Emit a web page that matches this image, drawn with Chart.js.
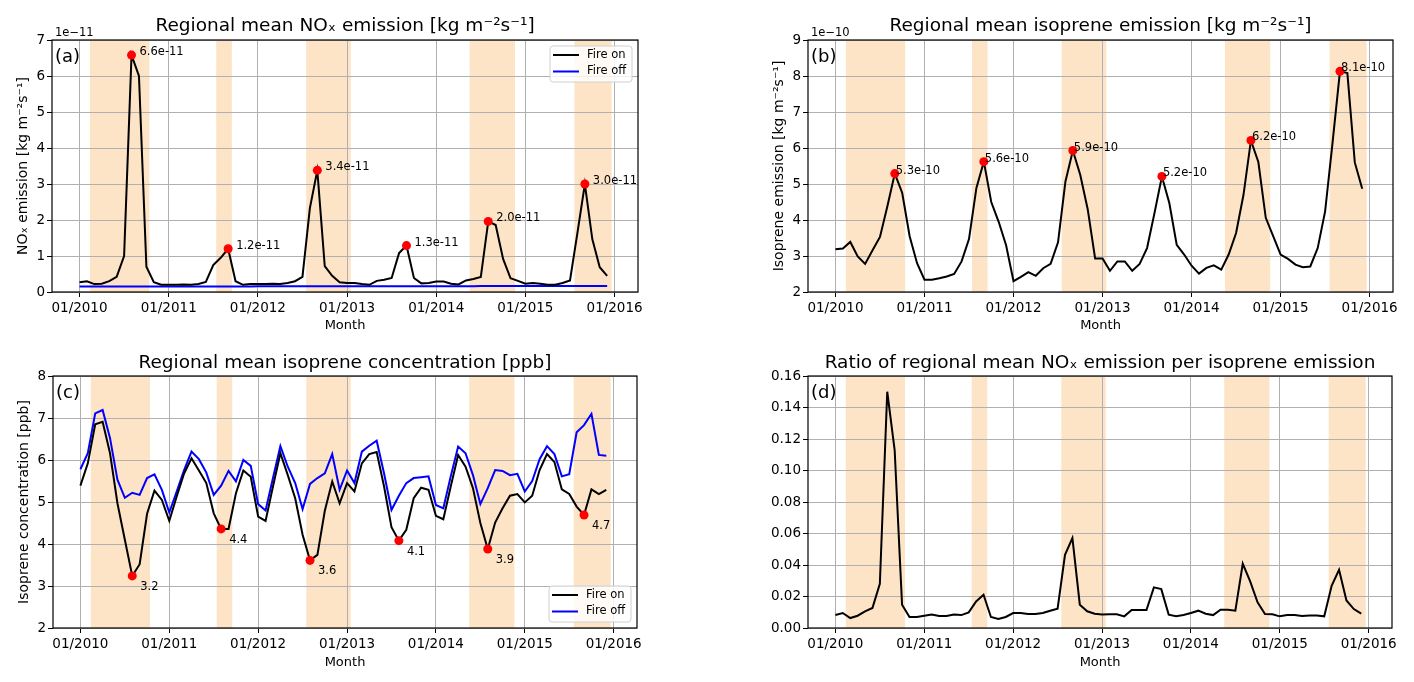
<!DOCTYPE html>
<html lang="en">
<head>
    <meta charset="UTF-8">
    <script src="https://cdn.jsdelivr.net/npm/chart.js"></script>
    <title>Fire on / Fire off</title>
    <style>
        body { margin: 0; background: #fff; }
        .painel { position: absolute; }
    </style>
</head>
<body>

<div class="painel" style="left:0;top:0"><canvas id="grafico_a" width="707" height="341"></canvas></div>
<div class="painel" style="left:707px;top:0"><canvas id="grafico_b" width="707" height="341"></canvas></div>
<div class="painel" style="left:0;top:341px"><canvas id="grafico_c" width="707" height="341"></canvas></div>
<div class="painel" style="left:707px;top:341px"><canvas id="grafico_d" width="707" height="341"></canvas></div>

<script>

    // x axis = month index, 0 = 01/2010
    const tickMonths = [0, 12, 24, 36, 48, 60, 72];
    const tickLabels = ['01/2010', '01/2011', '01/2012', '01/2013', '01/2014', '01/2015', '01/2016'];

    // fire seasons (shaded), in month index
    const seasonStart = [1.4, 18.4, 30.5, 52.5, 66.6];
    const seasonEnd = [9.4, 20.5, 36.5, 58.6, 71.6];

    // (a) NOx emission, x 1e-11 kg m-2 s-1
    const noxFireOn = [0.27, 0.30, 0.22, 0.23, 0.30, 0.42, 1.00, 6.58, 6.00, 0.70, 0.27, 0.20,
                       0.20, 0.20, 0.21, 0.20, 0.22, 0.28, 0.75, 0.95, 1.20, 0.30, 0.20, 0.22,
                       0.22, 0.22, 0.23, 0.22, 0.25, 0.30, 0.42, 2.33, 3.38, 0.72, 0.45, 0.27,
                       0.25, 0.25, 0.22, 0.20, 0.31, 0.34, 0.39, 1.08, 1.29, 0.39, 0.24, 0.25,
                       0.29, 0.29, 0.23, 0.21, 0.32, 0.36, 0.42, 1.96, 1.86, 0.92, 0.38, 0.31,
                       0.23, 0.25, 0.23, 0.20, 0.20, 0.25, 0.32, 1.64, 3.00, 1.47, 0.69, 0.45];
    const noxFireOff = [0.15, 0.15, 0.15, 0.15, 0.15, 0.15, 0.15, 0.15, 0.15, 0.15, 0.15, 0.15,
                        0.15, 0.15, 0.15, 0.15, 0.15, 0.15, 0.15, 0.15, 0.15, 0.15, 0.15, 0.15,
                        0.16, 0.16, 0.16, 0.16, 0.16, 0.16, 0.16, 0.16, 0.16, 0.16, 0.16, 0.16,
                        0.16, 0.16, 0.16, 0.16, 0.16, 0.16, 0.16, 0.16, 0.16, 0.16, 0.16, 0.16,
                        0.16, 0.16, 0.16, 0.16, 0.16, 0.16, 0.17, 0.17, 0.17, 0.17, 0.17, 0.17,
                        0.17, 0.17, 0.17, 0.17, 0.17, 0.17, 0.17, 0.17, 0.17, 0.17, 0.17, 0.17];
    const noxPeaks = [7, 20, 32, 44, 55, 68];

    // (b) isoprene emission, x 1e-10 kg m-2 s-1
    const isopEmission = [3.19, 3.21, 3.39, 2.99, 2.78, 3.16, 3.53, 4.38, 5.29, 4.75, 3.55, 2.80,
                          2.34, 2.34, 2.38, 2.43, 2.50, 2.85, 3.47, 4.89, 5.62, 4.50, 3.95, 3.30,
                          2.30, 2.42, 2.55, 2.45, 2.66, 2.78, 3.38, 5.07, 5.93, 5.25, 4.30, 2.93,
                          2.93, 2.59, 2.85, 2.85, 2.59, 2.78, 3.22, 4.19, 5.21, 4.47, 3.31, 3.04,
                          2.73, 2.51, 2.67, 2.74, 2.62, 3.04, 3.64, 4.70, 6.21, 5.61, 4.06, 3.55,
                          3.04, 2.92, 2.76, 2.69, 2.71, 3.22, 4.24, 6.14, 8.13, 8.08, 5.60, 4.87];
    const isopEmPeaks = [8, 20, 32, 44, 56, 68];

    // (c) isoprene concentration, ppb
    const concFireOn = [5.39, 5.92, 6.85, 6.91, 6.16, 4.97, 4.10, 3.24, 3.52, 4.72, 5.27, 5.05,
                        4.55, 5.13, 5.68, 6.04, 5.75, 5.45, 4.73, 4.36, 4.36, 5.21, 5.75, 5.60,
                        4.65, 4.55, 5.37, 6.16, 5.64, 5.09, 4.22, 3.61, 3.74, 4.79, 5.49, 4.97,
                        5.45, 5.25, 5.92, 6.14, 6.19, 5.37, 4.40, 4.08, 4.34, 5.09, 5.34, 5.29,
                        4.67, 4.59, 5.37, 6.12, 5.84, 5.33, 4.50, 3.88, 4.51, 4.85, 5.15, 5.19,
                        4.99, 5.15, 5.76, 6.14, 5.95, 5.30, 5.19, 4.89, 4.69, 5.30, 5.19, 5.29];
    const concFireOff = [5.78, 6.16, 7.11, 7.19, 6.52, 5.53, 5.10, 5.22, 5.17, 5.57, 5.66, 5.29,
                         4.75, 5.25, 5.76, 6.20, 6.02, 5.70, 5.17, 5.39, 5.74, 5.49, 6.00, 5.86,
                         4.95, 4.80, 5.57, 6.33, 5.84, 5.45, 4.83, 5.43, 5.57, 5.68, 6.14, 5.29,
                         5.75, 5.45, 6.20, 6.34, 6.46, 5.68, 4.81, 5.15, 5.45, 5.57, 5.59, 5.61,
                         4.93, 4.85, 5.61, 6.32, 6.16, 5.64, 4.95, 5.33, 5.76, 5.74, 5.64, 5.67,
                         5.25, 5.50, 6.02, 6.33, 6.14, 5.61, 5.66, 6.66, 6.83, 7.10, 6.12, 6.10];
    const concPeaks = [7, 19, 31, 43, 55, 68];

    // (d) NOx / isoprene emission ratio
    const ratio = [0.0082, 0.0095, 0.0063, 0.0078, 0.0106, 0.0127, 0.0280, 0.1500, 0.1130, 0.0148, 0.0070, 0.0070,
                   0.0078, 0.0085, 0.0076, 0.0076, 0.0085, 0.0082, 0.0099, 0.0169, 0.0211, 0.0070, 0.0057, 0.0070,
                   0.0095, 0.0095, 0.0089, 0.0089, 0.0095, 0.0110, 0.0123, 0.0465, 0.0571, 0.0148, 0.0106, 0.0091,
                   0.0085, 0.0087, 0.0087, 0.0074, 0.0114, 0.0114, 0.0114, 0.0258, 0.0247, 0.0085, 0.0074, 0.0082,
                   0.0095, 0.0110, 0.0091, 0.0082, 0.0116, 0.0116, 0.0110, 0.0408, 0.0296, 0.0163, 0.0089, 0.0087,
                   0.0074, 0.0082, 0.0082, 0.0076, 0.0080, 0.0080, 0.0074, 0.0268, 0.0370, 0.0175, 0.0120, 0.0091];

    const FONTE = '"DejaVu Sans", sans-serif';
    Chart.defaults.font.family = FONTE;
    Chart.defaults.color = '#000';

    function pontos(serie) {
        return serie.map((v, i) => ({ x: i, y: v }));
    }

    function picos(serie, idx) {
        return idx.map(i => ({ x: i, y: serie[i] }));
    }

    // shading, frame, panel letter, offset text, peak labels, legend
    function extras(cfg) {
        return {
            id: 'extras',
            beforeDraw(chart) {
                const { ctx, chartArea: area, scales: { x } } = chart;
                ctx.save();
                ctx.fillStyle = '#fde4c6';
                seasonStart.forEach((s, i) => {
                    const x0 = x.getPixelForValue(s);
                    const x1 = x.getPixelForValue(seasonEnd[i]);
                    ctx.fillRect(x0, area.top, x1 - x0, area.bottom - area.top);
                });
                ctx.restore();
            },
            afterDatasetsDraw(chart) {
                const ctx = chart.ctx;
                chart.data.datasets.forEach((ds, k) => {
                    if (!ds.peakText) return;
                    const meta = chart.getDatasetMeta(k);
                    ctx.save();
                    ctx.font = '11.5px ' + FONTE;
                    ctx.fillStyle = '#000';
                    ctx.textBaseline = 'middle';
                    meta.data.forEach((p, j) => {
                        ctx.fillText(ds.peakText[j], p.x + cfg.dx, p.y + cfg.dy);
                    });
                    ctx.restore();
                });
            },
            afterDraw(chart) {
                const { ctx, chartArea: area } = chart;
                ctx.save();
                ctx.strokeStyle = '#000';
                ctx.lineWidth = 1.2;
                ctx.strokeRect(area.left, area.top, area.right - area.left, area.bottom - area.top);

                ctx.fillStyle = '#000';
                ctx.textBaseline = 'alphabetic';
                ctx.font = '18px ' + FONTE;
                ctx.fillText(cfg.letter, area.left + 3, area.top + 22);
                if (cfg.offsetText) {
                    ctx.font = '11.5px ' + FONTE;
                    ctx.fillText(cfg.offsetText, area.left + 3, area.top - 4);
                }

                if (cfg.legend) {
                    const itens = chart.data.datasets.filter(d => d.label);
                    const w = 82, h = 36;
                    const bx = area.right - 6 - w;
                    const by = cfg.legend === 'top' ? area.top + 6 : area.bottom - 6 - h;
                    ctx.beginPath();
                    ctx.roundRect(bx, by, w, h, 3);
                    ctx.fillStyle = 'rgba(255,255,255,0.8)';
                    ctx.fill();
                    ctx.strokeStyle = '#d0d0d0';
                    ctx.lineWidth = 1;
                    ctx.stroke();
                    ctx.font = '11.5px ' + FONTE;
                    ctx.textBaseline = 'middle';
                    itens.forEach((d, i) => {
                        const ly = by + 9 + i * 16.5;
                        ctx.strokeStyle = d.borderColor;
                        ctx.lineWidth = 2;
                        ctx.beginPath();
                        ctx.moveTo(bx + 3, ly);
                        ctx.lineTo(bx + 29, ly);
                        ctx.stroke();
                        ctx.fillStyle = '#000';
                        ctx.fillText(d.label, bx + 37, ly);
                    });
                }
                ctx.restore();
            }
        };
    }

    function opcoes(p) {
        return {
            responsive: false,
            animation: false,
            layout: { padding: { left: p.padLeft, right: p.padRight, top: 0, bottom: 0 } },
            plugins: {
                legend: { display: false },
                tooltip: { enabled: false },
                title: {
                    display: true,
                    text: p.title,
                    fullSize: false,
                    color: '#000',
                    font: { size: 18.5, weight: 'normal' },
                    padding: { top: p.titleTop, bottom: p.titleBottom }
                }
            },
            scales: {
                x: {
                    type: 'linear',
                    min: -3.7,
                    max: 75.15,
                    afterBuildTicks: s => { s.ticks = tickMonths.map(v => ({ value: v })); },
                    afterFit: s => { s.height = p.xHeight; },
                    border: { display: false },
                    grid: { color: '#b0b0b0', lineWidth: 1, tickColor: '#000', tickLength: 5, tickWidth: 1 },
                    ticks: {
                        autoSkip: false,
                        maxRotation: 0,
                        padding: 3,
                        font: { size: 13.5 },
                        callback: v => tickLabels[tickMonths.indexOf(v)]
                    },
                    title: { display: true, text: 'Month', font: { size: 13 }, padding: { top: 0, bottom: p.monthPad } }
                },
                y: {
                    min: p.yMin,
                    max: p.yMax,
                    afterFit: s => { s.width = 52; },
                    border: { display: false },
                    grid: { color: '#b0b0b0', lineWidth: 1, tickColor: '#000', tickLength: 5, tickWidth: 1 },
                    ticks: {
                        stepSize: p.yStep,
                        padding: 2,
                        font: { size: 13.5 },
                        callback: p.yFmt
                    },
                    title: { display: !!p.yTitle, text: p.yTitle, font: { size: 14 }, padding: { top: 14.6, bottom: 0 } }
                }
            }
        };
    }

    function linha(label, serie, cor) {
        return { type: 'line', label: label, data: pontos(serie), borderColor: cor, borderWidth: 2,
                 pointRadius: 0, tension: 0, fill: false, order: 2 };
    }

    function marcas(serie, idx, textos) {
        return { type: 'scatter', data: picos(serie, idx), backgroundColor: '#ff0000', borderWidth: 0,
                 pointRadius: 4.5, order: 0, peakText: textos };
    }

    // (a)
    new Chart(document.getElementById('grafico_a'), {
        type: 'line',
        data: {
            datasets: [
                marcas(noxFireOn, noxPeaks, noxPeaks.map(i => (noxFireOn[i] * 1e-11).toExponential(1))),
                linha('Fire on', noxFireOn, '#000000'),
                linha('Fire off', noxFireOff, '#0000ff')
            ]
        },
        options: opcoes({
            padLeft: 0, padRight: 69, titleTop: 15.4, titleBottom: 2.4, xHeight: 49, monthPad: 7.2,
            title: 'Regional mean NOₓ emission [kg m⁻²s⁻¹]',
            yMin: 0, yMax: 7, yStep: 1, yTitle: 'NOₓ emission [kg m⁻²s⁻¹]'
        }),
        plugins: [extras({ letter: '(a)', offsetText: '1e−11', legend: 'top', dx: 8, dy: -3 })]
    });

    // (b)
    new Chart(document.getElementById('grafico_b'), {
        type: 'line',
        data: {
            datasets: [
                marcas(isopEmission, isopEmPeaks, isopEmPeaks.map(i => (isopEmission[i] * 1e-10).toExponential(1))),
                linha(null, isopEmission, '#000000')
            ]
        },
        options: opcoes({
            padLeft: 49, padRight: 21, titleTop: 15.4, titleBottom: 2.4, xHeight: 49, monthPad: 7.2,
            title: 'Regional mean isoprene emission [kg m⁻²s⁻¹]',
            yMin: 2, yMax: 9, yStep: 1, yTitle: 'Isoprene emission [kg m⁻²s⁻¹]'
        }),
        plugins: [extras({ letter: '(b)', offsetText: '1e−10', legend: null, dx: 1, dy: -3 })]
    });

    // (c)
    new Chart(document.getElementById('grafico_c'), {
        type: 'line',
        data: {
            datasets: [
                marcas(concFireOn, concPeaks, concPeaks.map(i => concFireOn[i].toFixed(1))),
                linha('Fire on', concFireOn, '#000000'),
                linha('Fire off', concFireOff, '#0000ff')
            ]
        },
        options: opcoes({
            padLeft: 1, padRight: 70, titleTop: 11.4, titleBottom: 1.4, xHeight: 54, monthPad: 11.2,
            title: 'Regional mean isoprene concentration [ppb]',
            yMin: 2, yMax: 8, yStep: 1, yTitle: 'Isoprene concentration [ppb]'
        }),
        plugins: [extras({ letter: '(c)', offsetText: null, legend: 'bottom', dx: 8, dy: 11 })]
    });

    // (d)
    new Chart(document.getElementById('grafico_d'), {
        type: 'line',
        data: {
            datasets: [linha(null, ratio, '#000000')]
        },
        options: opcoes({
            padLeft: 49, padRight: 22, titleTop: 11.4, titleBottom: 1.4, xHeight: 54, monthPad: 11.2,
            title: 'Ratio of regional mean NOₓ emission per isoprene emission',
            yMin: 0, yMax: 0.16, yStep: 0.02, yTitle: '', yFmt: v => v.toFixed(2)
        }),
        plugins: [extras({ letter: '(d)', offsetText: null, legend: null, dx: 0, dy: 0 })]
    });

</script>
</body>
</html>
